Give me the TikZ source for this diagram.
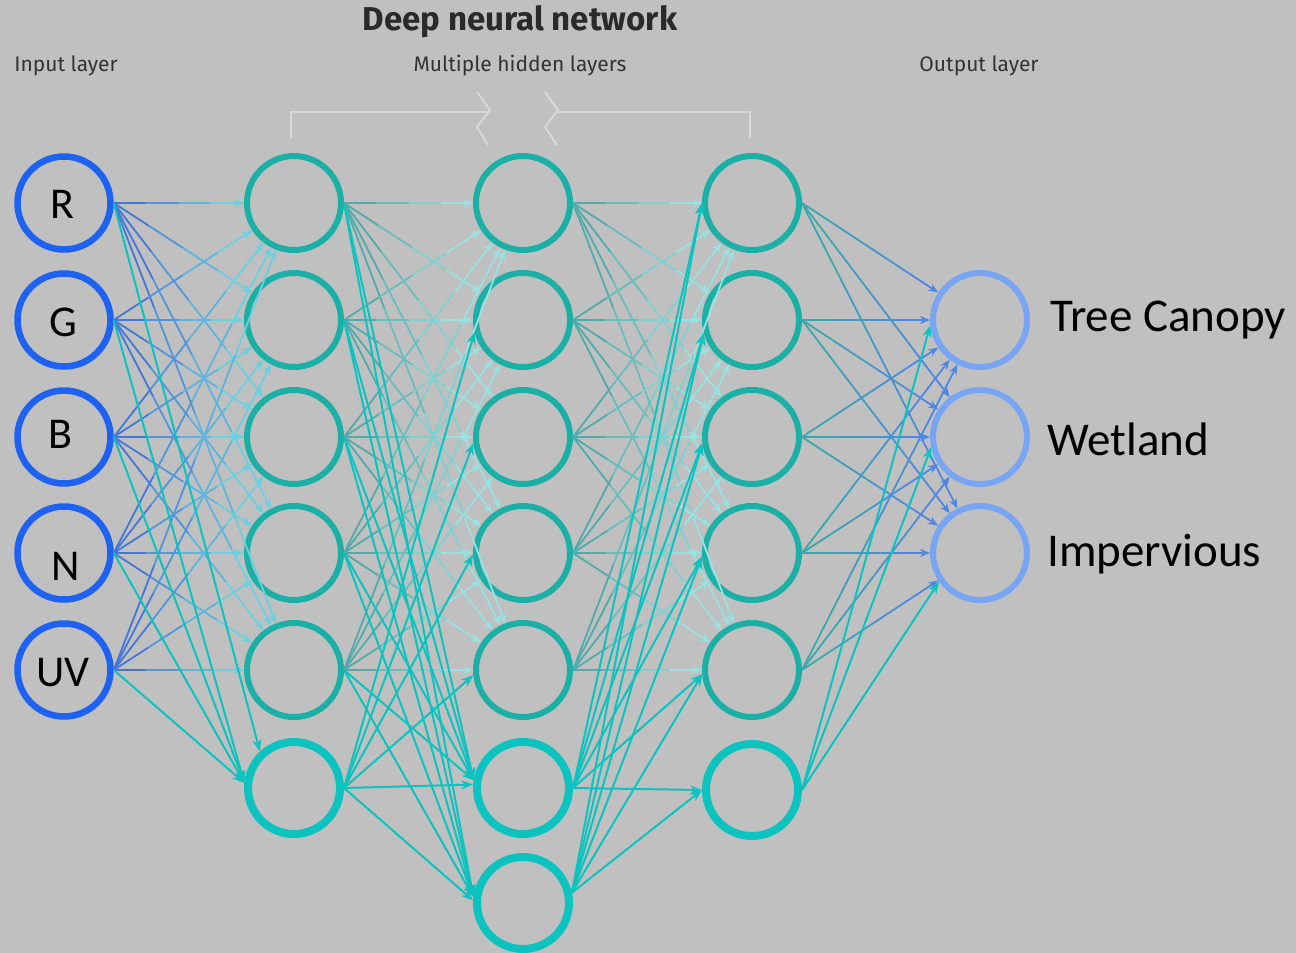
\documentclass[tikz,border=0pt]{standalone}
\usepackage{fontspec}
\setmainfont{Carlito}
\newfontfamily\headfont{Fira Sans}
\usetikzlibrary{arrows.meta,calc}

\definecolor{bg}{HTML}{C0C0C0}
\definecolor{inblue}{HTML}{1E62F2}
\definecolor{hidteal}{HTML}{1BB0A6}
\definecolor{brightteal}{HTML}{0DC3BF}
\definecolor{outblue}{HTML}{78A4F4}
\definecolor{edgeblue}{HTML}{4477D6}
\definecolor{edgecyan}{HTML}{6CD0E0}
\definecolor{hidA}{HTML}{52AAAA}
\definecolor{hidB}{HTML}{98E2E2}
\definecolor{outA}{HTML}{3AA8AC}
\definecolor{outB}{HTML}{4F86E2}
\definecolor{bracketgray}{HTML}{D8D8D8}
\definecolor{captext}{HTML}{333333}
\definecolor{titletext}{HTML}{2A2A2A}

% a faint connector whose colour runs from #3 at the source to #4 at the target
\newcommand\fadelink[4]{%
  \coordinate (fs) at (#1.east);
  \coordinate (fe) at ($(#2)!50pt!(fs)$);
  \foreach \k in {0,1,2}{%
    \pgfmathsetmacro\ta{\k/4}%
    \pgfmathsetmacro\tb{(\k+1)/4}%
    \pgfmathtruncatemacro\pc{100-\k*100/3}%
    \draw[fade,draw={#3!\pc!#4}] ($(fs)!\ta!(fe)$) -- ($(fs)!\tb!(fe)$);
  }%
  \draw[fade,draw={#4},fill={#4},-{Stealth[length=10pt,width=8pt]}] ($(fs)!0.75!(fe)$) -- (fe);
}

\tikzset{
  inp/.style={circle,draw=inblue,line width=6.5pt,minimum size=93pt,inner sep=0pt},
  hid/.style={circle,draw=hidteal,line width=6pt,minimum size=94pt,inner sep=0pt},
  newn/.style={circle,draw=brightteal,line width=8pt,minimum size=92pt,inner sep=0pt},
  outn/.style={circle,draw=outblue,line width=6pt,minimum size=94pt,inner sep=0pt},
  fade/.style={line width=1.8pt},
  bright/.style={draw=brightteal,line width=2pt,-{Stealth[length=12pt,width=9pt]}},
  lab/.style={font=\fontsize{44}{48}\selectfont,text=black,inner sep=0pt},
  outtext/.style={font=\fontsize{47}{50}\selectfont,text=black,inner sep=0pt,anchor=base west},
  capt/.style={font=\headfont\fontsize{21}{24}\selectfont,text=captext,inner sep=0pt},
  bracketline/.style={draw=bracketgray,line width=2pt,line join=miter},
}

\begin{document}
\begin{tikzpicture}[x=1pt,y=-1pt]
\fill[bg] (0,0) rectangle (1296,953);
\useasboundingbox (0,0) rectangle (1296,953);

% headings
\node[font=\headfont\bfseries\fontsize{33}{36}\selectfont,text=titletext,inner sep=0pt] (title) at (520,22) {Deep neural network};
\node[capt] (inlab) at (66,66) {Input layer};
\node[capt] (hidlab) at (520,66) {Multiple hidden layers};
\node[capt] (outlab) at (979,66) {Output layer};

% bracket over the hidden layers, with a break in the middle
\draw[bracketline] (291,138) -- (291,112) -- (490,112);
\draw[bracketline] (477,92) -- (490,110) -- (477,127) -- (488,145);
\draw[bracketline] (545,92) -- (558,110) -- (545,127) -- (557,145);
\draw[bracketline] (558,112) -- (750,112) -- (750,138);

% input layer
\foreach \n/\y in {1/203,2/320,3/437,4/553,5/670}
  \node[inp] (i\n) at (64,\y) {};
\node[lab] (lR) at (62,204) {R};
\node[lab] (lG) at (63,322) {G};
\node[lab] (lB) at (60,434) {B};
\node[lab] (lN) at (66,566) {N};
\node[lab] (lUV) at (63,673) {UV};

% hidden layers
\foreach \n/\y in {1/203,2/320,3/437,4/553,5/670}{
  \node[hid] (a\n) at (294,\y) {};
  \node[hid] (b\n) at (523,\y) {};
  \node[hid] (c\n) at (752,\y) {};
}
\node[newn] (a6) at (294,788) {};
\node[newn] (b6) at (523,788) {};
\node[newn] (b7) at (523,903) {};
\node[newn] (c6) at (752,790) {};

% output layer
\foreach \n/\y in {1/320,2/437,3/553}
  \node[outn] (o\n) at (980,\y) {};
\node[outtext] (t1) at (1050,331) {Tree Canopy};
\node[outtext] (t2) at (1047,455) {Wetland};
\node[outtext] (t3) at (1047,566) {Impervious};

% faint full connections of the original network
\foreach \s in {1,...,5}{
  \foreach \t in {1,...,5}{
    \fadelink{i\s}{a\t}{edgeblue}{edgecyan}
    \fadelink{a\s}{b\t}{hidA}{hidB}
    \fadelink{b\s}{c\t}{hidA}{hidB}
  }
  \foreach \t in {1,2,3}{
    \fadelink{c\s}{o\t}{outA}{outB}
  }
}

% added neurons and their connections
\draw[bright] (i1.east) -- (a6.133);
\foreach \s in {2,...,5}
  \draw[bright] (i\s.east) -- (a6.174);
\foreach \s in {1,...,5}{
  \draw[bright] (a\s.east) -- (b6.171);
  \draw[bright] (a\s.east) -- (b7.173);
}
\draw[bright] (a6.east) -- (b2.194);
\draw[bright] (a6.east) -- (b3.187);
\draw[bright] (a6.east) -- (b4.182);
\draw[bright] (a6.east) -- (b5.186);
\draw[bright] (a6.east) -- (b6.176);
\draw[bright] (a6.east) -- (b7.177);
\foreach \s/\a in {b6/0,b7/12}{
  \draw[bright] (\s.\a) -- (c1.180);
  \draw[bright] (\s.\a) -- (c2.195);
  \draw[bright] (\s.\a) -- (c3.187);
  \draw[bright] (\s.\a) -- (c4.184);
  \draw[bright] (\s.\a) -- (c5.185);
  \draw[bright] (\s.\a) -- (c6.180);
}
\draw[bright] (c6.east) -- (o1.186);
\draw[bright] (c6.east) -- (o2.192);
\draw[bright] (c6.east) -- (o3.215);
\end{tikzpicture}
\end{document}
